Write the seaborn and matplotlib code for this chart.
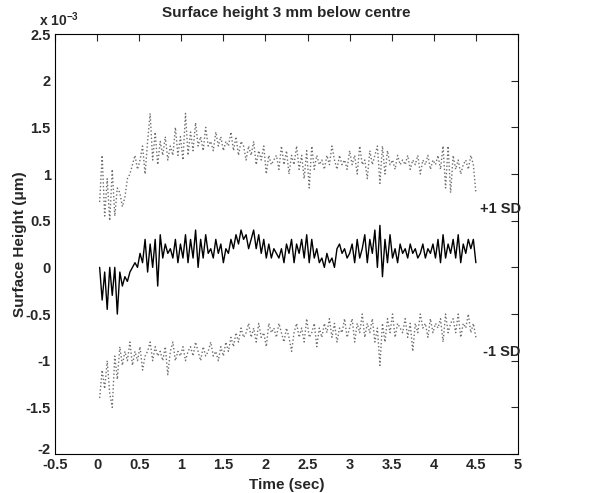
import numpy as np
import pandas as pd
import matplotlib.pyplot as plt
import seaborn as sns

sns.set_style("white")
plt.rcParams["font.family"] = ["Liberation Sans", "DejaVu Sans"]
plt.rcParams["font.weight"] = "bold"

# ========== data (surface height, units of 1e-3 um) ==========
mean_h = [
    0.0, -0.35, -0.05, -0.45, 0.0, -0.3, 0.0, -0.5, -0.05, -0.2,
    -0.1, -0.15, -0.05, 0.0, 0.05, 0.0, 0.15, 0.05, 0.3, -0.05,
    0.25, 0.0, 0.3, -0.2, 0.35, 0.1, 0.25, 0.15, 0.2, 0.1,
    0.3, 0.05, 0.25, 0.1, 0.35, 0.05, 0.3, 0.1, 0.4, 0.0,
    0.3, 0.1, 0.35, 0.15, 0.2, 0.1, 0.3, 0.15, 0.25, 0.05,
    0.2, 0.15, 0.3, 0.2, 0.35, 0.25, 0.4, 0.3, 0.35, 0.2,
    0.3, 0.4, 0.2, 0.35, 0.15, 0.3, 0.1, 0.25, 0.1, 0.2,
    0.15, 0.1, 0.2, 0.05, 0.25, 0.15, 0.3, 0.05, 0.25, 0.15,
    0.3, 0.1, 0.35, 0.05, 0.3, 0.1, 0.2, 0.05, 0.1, 0.0,
    0.15, 0.05, 0.1, 0.0, 0.2, 0.25, 0.15, 0.2, 0.1, 0.15,
    0.25, 0.05, 0.3, 0.1, 0.2, 0.35, 0.05, 0.3, 0.15, 0.4,
    0.0, 0.45, -0.1, 0.3, 0.05, 0.35, 0.1, 0.2, 0.05, 0.25,
    0.15, 0.2, 0.1, 0.25, 0.15, 0.2, 0.1, 0.15, 0.25, 0.1,
    0.2, 0.15, 0.25, 0.1, 0.3, 0.05, 0.35, 0.1, 0.25, 0.15,
    0.3, 0.1, 0.35, 0.05, 0.25, 0.15, 0.3, 0.2, 0.3, 0.05,
]
upper_h = [
    0.7, 1.2, 0.55, 0.95, 0.5, 1.05, 0.55, 0.85, 0.8, 0.65,
    0.75, 0.95, 1.0, 1.1, 1.2, 1.05, 1.15, 1.3, 1.0, 1.35,
    1.65, 1.15, 1.45, 1.1, 1.35, 1.2, 1.4, 1.15, 1.3, 1.2,
    1.5, 1.2, 1.4, 1.15, 1.65, 1.2, 1.45, 1.25, 1.55, 1.3,
    1.4, 1.25, 1.5, 1.3, 1.35, 1.25, 1.45, 1.3, 1.4, 1.25,
    1.35, 1.3, 1.45, 1.25, 1.4, 1.2, 1.35, 1.3, 1.15, 1.3,
    1.2, 1.35, 1.1, 1.25, 1.15, 1.3, 1.0, 1.2, 1.1, 1.15,
    1.2, 1.05, 1.3, 1.1, 1.25, 1.0, 1.2, 1.1, 1.3, 1.05,
    1.2, 0.95, 1.25, 0.85, 1.3, 1.05, 1.2, 1.1, 1.15, 1.05,
    1.2, 1.1, 1.3, 1.15, 1.05, 1.2, 1.1, 1.15, 1.05, 1.25,
    1.1, 1.2, 1.0, 1.3, 1.1, 1.15, 0.95, 1.25, 1.1, 1.2,
    1.3, 0.9, 1.3, 1.0, 1.25, 1.1, 1.15, 1.05, 1.2, 1.1,
    1.15, 1.1, 1.2, 1.05, 1.15, 1.1, 1.2, 1.0, 1.15, 1.1,
    1.2, 1.05, 1.15, 1.1, 1.2, 1.05, 1.3, 0.85, 1.3, 0.8,
    1.2, 1.05, 1.15, 1.0, 1.1, 1.15, 1.05, 1.2, 1.1, 0.8,
]
lower_h = [
    -1.4, -1.1, -1.3, -1.0, -1.35, -1.5, -0.95, -1.2, -0.85, -1.05,
    -0.9, -1.0, -0.8, -1.05, -0.9, -1.0, -0.85, -1.1, -0.95, -0.9,
    -0.8, -1.0, -0.85, -0.95, -0.9, -1.0, -0.85, -1.15, -0.9, -0.8,
    -1.0, -0.9, -0.95, -0.85, -1.0, -0.9, -0.85, -0.95, -0.8, -0.9,
    -1.0, -0.85, -0.95, -0.9, -0.8, -0.95, -0.9, -1.0, -0.85, -0.95,
    -0.8, -0.9, -0.75, -0.85, -0.7, -0.8, -0.65, -0.75, -0.7, -0.6,
    -0.75, -0.65, -0.8, -0.6, -0.75, -0.7, -0.85, -0.6, -0.7, -0.65,
    -0.75, -0.6, -0.7, -0.8, -0.65, -0.75, -0.9, -0.7, -0.6, -0.75,
    -0.65, -0.8, -0.55, -0.75, -0.7, -0.6, -0.85, -0.65, -0.75, -0.6,
    -0.7, -0.55, -0.75, -0.6, -0.8, -0.65, -0.7, -0.55, -0.75, -0.65,
    -0.55, -0.8, -0.6, -0.7, -0.5, -0.75, -0.6, -0.7, -0.55, -0.8,
    -0.65, -1.05, -0.6, -0.8, -0.55, -0.7, -0.5, -0.75, -0.6, -0.65,
    -0.7, -0.55, -0.75, -0.6, -0.9, -0.6, -0.7, -0.5, -0.65, -0.6,
    -0.75, -0.55, -0.7, -0.6, -0.65, -0.55, -0.8, -0.5, -0.7, -0.6,
    -0.55, -0.7, -0.5, -0.75, -0.6, -0.65, -0.5, -0.7, -0.6, -0.75,
]
t_start, t_end = 0.03, 4.5
time = np.linspace(t_start, t_end, len(mean_h))

df = pd.DataFrame({"time": time, "mean": mean_h, "upper": upper_h, "lower": lower_h})

x_ticks = [-0.5, 0, 0.5, 1, 1.5, 2, 2.5, 3, 3.5, 4, 4.5, 5]
y_ticks = [-2, -1.5, -1, -0.5, 0, 0.5, 1, 1.5, 2, 2.5]

# ========== plot ==========
fig = plt.figure(figsize=(6.02, 4.93), dpi=100)
ax = fig.add_axes([0.0914, 0.079, 0.769, 0.852])

sns.lineplot(data=df, x="time", y="upper", ax=ax, color="#6e6e6e", lw=1, linestyle=":")
sns.lineplot(data=df, x="time", y="lower", ax=ax, color="#6e6e6e", lw=1, linestyle=":")
sns.lineplot(data=df, x="time", y="mean", ax=ax, color="black", lw=1)

ax.set_xlim(-0.5, 5)
ax.set_ylim(-2, 2.5)
ax.set_xticks(x_ticks)
ax.set_xticklabels([f"{v:g}" for v in x_ticks])
ax.set_yticks(y_ticks)
ax.set_yticklabels([f"{v:g}" for v in y_ticks])
ax.tick_params(direction="in", length=5, width=0.8, labelsize=10.5,
               top=True, right=True, pad=3)
ax.get_yticklabels()[0].set_va("baseline")
for s in ax.spines.values():
    s.set_color("black")
    s.set_linewidth(0.8)

ax.set_xlabel("Time (sec)", fontsize=11, fontweight="bold", labelpad=4)
ax.set_ylabel("Surface Height (\u03bcm)", fontsize=11, fontweight="bold", labelpad=-1)
ax.set_title("Surface height 3 mm below centre", fontsize=11, fontweight="bold", pad=12)
ax.text(-0.035, 1.012, r"x 10$^{\mathregular{-3}}$", transform=ax.transAxes,
        fontsize=10, va="bottom")

ax.text(4.55, 0.62, "+1 SD", fontsize=10.5, fontweight="bold", va="center")
ax.text(4.58, -0.91, "-1 SD", fontsize=10.5, fontweight="bold", va="center")

plt.savefig("out.png", dpi=100)
